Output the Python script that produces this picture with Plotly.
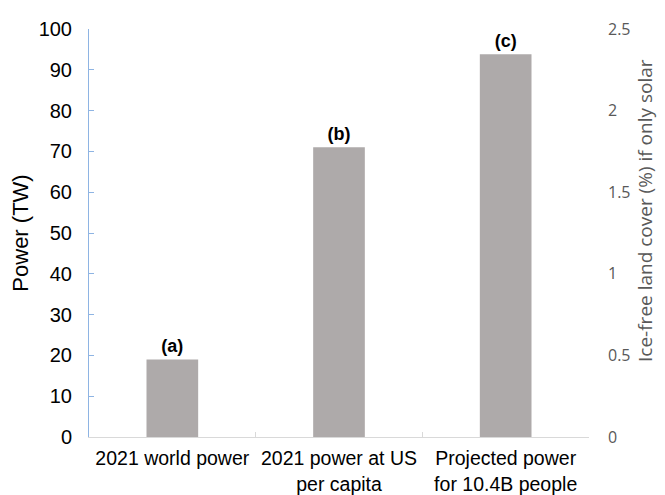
import plotly.graph_objects as go

categories = ["2021 world power", "2021 power at US<br>per capita", "Projected power<br>for 10.4B people"]
power_tw = [19, 71, 93.8]
bar_labels = ["(a)", "(b)", "(c)"]
land_cover_pct = [0.475, 1.775, 2.345]

fig = go.Figure()
fig.add_trace(go.Bar(
    x=categories, y=power_tw, text=bar_labels, textposition="outside",
    textfont=dict(family="Liberation Sans, Arial", size=18, color="black", weight="bold"),
    marker=dict(color="#aeaaaa", line=dict(width=0)), width=0.31, cliponaxis=False,
    showlegend=False, hoverinfo="skip"))
fig.add_trace(go.Scatter(
    x=categories, y=land_cover_pct, yaxis="y2", mode="markers",
    marker=dict(opacity=0), showlegend=False, hoverinfo="skip"))

fig.update_layout(
    width=665, height=495,
    margin=dict(l=81, r=84, t=21, b=66),
    plot_bgcolor="white", paper_bgcolor="white",
    font=dict(family="Liberation Sans, Arial", color="black"),
    xaxis=dict(
        showline=True, linecolor="#d9d9d9", linewidth=1, automargin=False,
        tickangle=0,
        tickfont=dict(size=19.5, color="black"), ticklabelstandoff=4,
        showgrid=False, zeroline=False,
        ticks="inside", tickson="boundaries", ticklen=5, tickcolor="#d9d9d9",
    ),
    yaxis=dict(
        range=[0, 100], dtick=10, showgrid=False, zeroline=False, automargin=False,
        showline=True, linecolor="#8eb4e3", linewidth=1,
        ticks="inside", ticklen=5, tickcolor="#8eb4e3",
        tickfont=dict(size=20, color="black"), ticklabelstandoff=12,
        title=dict(text="Power (TW)", font=dict(size=22, color="black"), standoff=12),
    ),
    yaxis2=dict(
        overlaying="y", side="right", range=[0, 2.5], dtick=0.5, automargin=False,
        showgrid=False, zeroline=False, showline=False, ticks="",
        tickfont=dict(family="Open Sans", size=16, color="#595959"),
        ticklabelstandoff=18,
    ),
    annotations=[dict(
        text="Ice-free land cover (%) if only solar", textangle=-90,
        xref="paper", yref="paper", x=1.112, y=0.554,
        xanchor="center", yanchor="middle", showarrow=False,
        font=dict(family="Open Sans", size=19, color="#595959"),
    )],
)

fig.write_html("out.html")
